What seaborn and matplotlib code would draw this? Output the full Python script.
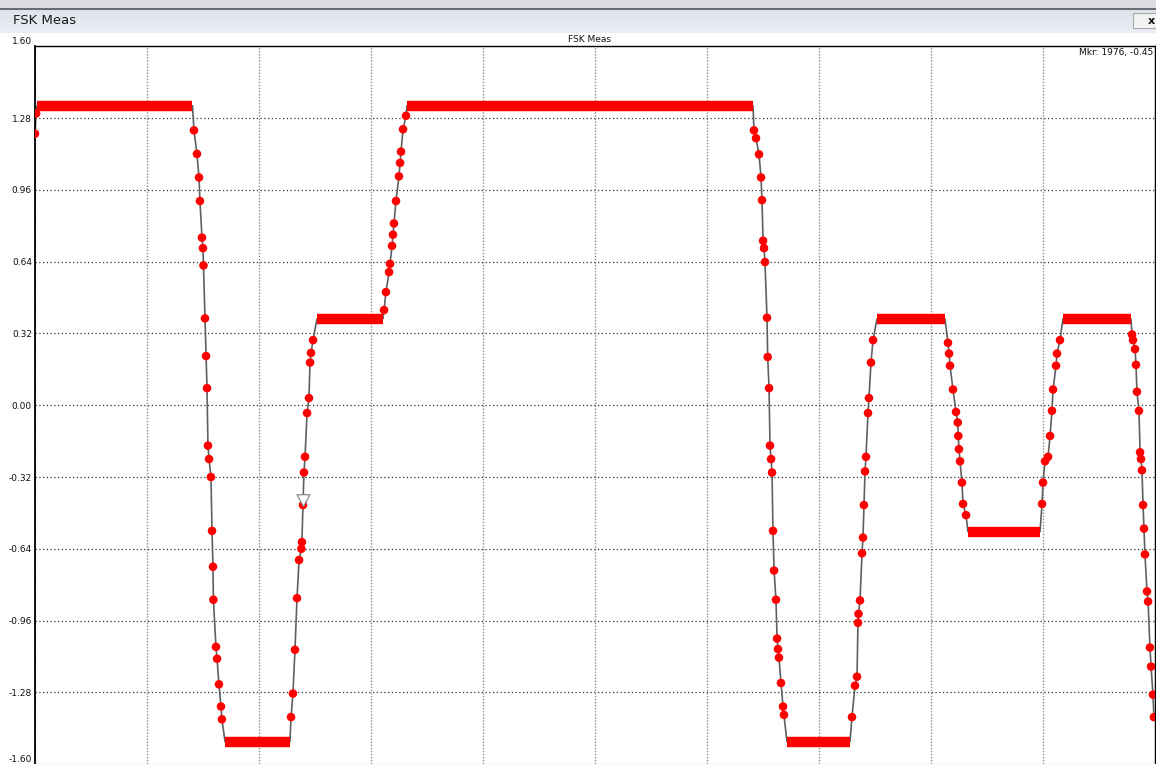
import numpy as np
import pandas as pd
import matplotlib
matplotlib.use("Agg")
import matplotlib.pyplot as plt
from matplotlib.patches import Rectangle
from matplotlib.path import Path
import seaborn as sns

# ---------------- data (sample index, amplitude) ----------------
plateau_start = [15, 1400, 2077, 2740, 5539, 6202, 6872, 7572]
plateau_end = [1160, 1878, 2563, 5289, 6003, 6703, 7403, 8073]
plateau_level = [1.335, -1.50, 0.385, 1.335, -1.50, 0.385, -0.564, 0.385]

t0_s = [0, 8]
t0_v = [1.21, 1.30]
t1_s = [1171, 1193, 1208, 1215, 1230, 1237, 1241, 1252, 1260, 1267, 1274,
        1282, 1296, 1304, 1311, 1314, 1333, 1341, 1355, 1370, 1377]
t1_v = [1.225, 1.12, 1.015, 0.91, 0.747, 0.70, 0.623, 0.387, 0.219, 0.076,
        -0.18, -0.24, -0.32, -0.56, -0.72, -0.867, -1.077, -1.13, -1.244,
        -1.343, -1.40]
t2_s = [1886, 1900, 1915, 1930, 1945, 1962, 1966, 1974, 1981, 1989, 2004,
        2018, 2026, 2033, 2048]
t2_v = [-1.39, -1.285, -1.09, -0.86, -0.69, -0.64, -0.61, -0.445, -0.30,
        -0.23, -0.035, 0.032, 0.19, 0.233, 0.29]
t3_s = [2571, 2585, 2608, 2615, 2630, 2637, 2644, 2659, 2681, 2689, 2696,
        2711, 2733]
t3_v = [0.424, 0.504, 0.593, 0.63, 0.71, 0.76, 0.81, 0.91, 1.02, 1.08, 1.13,
        1.23, 1.29]
t4_s = [5296, 5311, 5333, 5348, 5355, 5363, 5370, 5377, 5392, 5397, 5407,
        5414, 5422, 5429, 5436, 5444, 5458, 5466, 5473, 5480, 5495, 5510, 5517]
t4_v = [1.225, 1.19, 1.118, 1.015, 0.914, 0.733, 0.70, 0.638, 0.39, 0.215,
        0.076, -0.18, -0.24, -0.30, -0.56, -0.737, -0.867, -1.04, -1.087,
        -1.125, -1.238, -1.343, -1.38]
t5_s = [6018, 6040, 6055, 6062, 6066, 6077, 6092, 6099, 6106, 6114, 6121,
        6136, 6143, 6158, 6173]
t5_v = [-1.39, -1.25, -1.21, -0.97, -0.93, -0.87, -0.66, -0.59, -0.445,
        -0.295, -0.23, -0.035, 0.032, 0.19, 0.29]
t6_s = [6725, 6733, 6740, 6762, 6784, 6797, 6801, 6806, 6814, 6828, 6836, 6858]
t6_v = [0.278, 0.23, 0.176, 0.07, -0.03, -0.077, -0.137, -0.196, -0.25,
        -0.345, -0.44, -0.49]
t7_s = [7418, 7425, 7440, 7462, 7477, 7491, 7499, 7521, 7528, 7550]
t7_v = [-0.44, -0.345, -0.25, -0.23, -0.137, -0.025, 0.07, 0.176, 0.23, 0.29]
t8_s = [8081, 8088, 8103, 8110, 8117, 8132, 8140, 8147, 8154, 8162, 8169,
        8176, 8191, 8199, 8213, 8221, 8235, 8242]
t8_v = [0.315, 0.29, 0.25, 0.18, 0.06, -0.025, -0.21, -0.24, -0.29, -0.445,
        -0.55, -0.665, -0.83, -0.875, -1.08, -1.165, -1.29, -1.39]

y_ticks = [1.60, 1.28, 0.96, 0.64, 0.32, 0.00, -0.32, -0.64, -0.96, -1.28, -1.60]
x_max = 8250
x_divisions = 10
mkr_sample = 1976
mkr_value = -0.45
window_title = "FSK Meas"
chart_title = "FSK Meas"

# ---------------- build tables ----------------
trans_s = t0_s + t1_s + t2_s + t3_s + t4_s + t5_s + t6_s + t7_s + t8_s
trans_v = t0_v + t1_v + t2_v + t3_v + t4_v + t5_v + t6_v + t7_v + t8_v
trans = pd.DataFrame({"sample": trans_s, "value": trans_v})
plat = pd.DataFrame({"sample": plateau_start + plateau_end,
                     "value": plateau_level + plateau_level})
trace = pd.concat([trans, plat]).sort_values("sample").reset_index(drop=True)

# ---------------- figure ----------------
sns.set_style("white")
plt.rcParams["font.family"] = ["DejaVu Sans"]
W, H = 1156, 764
fig = plt.figure(figsize=(W / 100, H / 100), dpi=100)
fig.patch.set_facecolor("white")

# window chrome
fig.patches.append(Rectangle((0, 1 - 8 / H), 1, 8 / H, transform=fig.transFigure,
                             facecolor="#dadce1", edgecolor="none", zorder=0))
fig.patches.append(Rectangle((0, 1 - 10 / H), 1, 2.5 / H, transform=fig.transFigure,
                             facecolor="#6b6d72", edgecolor="none", zorder=1))
bar = fig.add_axes([0, 1 - 33 / H, 1, 23 / H])
grad = np.linspace(0, 1, 50)[:, None]
bar.imshow(grad, aspect="auto", cmap=matplotlib.colors.LinearSegmentedColormap.from_list(
    "g", ["#dfe4ec", "#eaedf4"]), extent=[0, 1, 0, 1])
bar.set_axis_off()
fig.text(13 / W, 1 - 20.5 / H, window_title, ha="left", va="center",
         fontsize=9.5, color="#1a1a1a")
fig.patches.append(Rectangle((1133 / W, 1 - 28 / H), 30 / W, 15 / H,
                             transform=fig.transFigure, facecolor="#f3f3f3",
                             edgecolor="#a8a8a8", lw=0.8, zorder=3))
fig.text(1151 / W, 1 - 20.5 / H, "x", ha="center", va="center", fontsize=8,
         fontweight="bold", color="#111", zorder=4)

# plot area
top_px, bot_px = 46.2, 764.2
ax = fig.add_axes([35 / W, (H - bot_px) / H, 1120 / W, (bot_px - top_px) / H])
ax.set_xlim(0, x_max)
ax.set_ylim(y_ticks[-1], y_ticks[0])
ax.set_xticks(np.linspace(0, x_max, x_divisions + 1))
ax.set_xticklabels([])
ax.set_yticks(y_ticks)
ax.set_yticklabels([f"{t:.2f}" for t in y_ticks])
ax.tick_params(length=0, labelsize=6.5, pad=2.2, labelcolor="#111")
ax.get_yticklabels()[0].set_va("bottom")
ax.get_yticklabels()[-1].set_va("bottom")
ax.yaxis.grid(True, color="#333333", linestyle=(0, (1, 2)), lw=0.9)
ax.xaxis.grid(True, color="#8a8a8a", linestyle=(0, (1, 1.2)), lw=1.0)
ax.set_axisbelow(True)
for side in ["left", "top", "right"]:
    ax.spines[side].set_visible(True)
    ax.spines[side].set_color("black")
ax.spines["left"].set_linewidth(1.3)
ax.spines["top"].set_linewidth(1.0)
ax.spines["right"].set_linewidth(1.0)
ax.spines["bottom"].set_visible(False)

# thin connecting trace
sns.lineplot(data=trace, x="sample", y="value", sort=False, estimator=None,
             color="#606060", lw=1.2, ax=ax, zorder=2)
# plateau bands
ax.hlines(plateau_level, plateau_start, plateau_end, colors="#ff0000",
          lw=7.5, zorder=3)
# transition sample clusters
sns.scatterplot(data=trans, x="sample", y="value", color="#ff0000", s=38,
                edgecolor="none", ax=ax, zorder=4)

# marker triangle (tip at the data point)
tri = Path([(-0.55, 1.0), (0.55, 1.0), (0.0, 0.0), (-0.55, 1.0)],
           [Path.MOVETO, Path.LINETO, Path.LINETO, Path.CLOSEPOLY])
ax.plot([mkr_sample], [mkr_value], marker=tri, markersize=17, mfc="white",
        mec="#8a8a8a", mew=0.9, ls="none", zorder=5)

ax.set_xlabel("")
ax.set_ylabel("")
fig.text(590 / W, 1 - 39.5 / H, chart_title, ha="center", va="center",
         fontsize=6.5, color="#111")
fig.text(1153 / W, 1 - 53 / H, f"Mkr: {mkr_sample}, {mkr_value:.2f}", ha="right",
         va="center", fontsize=6.5, color="#111")

fig.savefig("out.png", dpi=100)
